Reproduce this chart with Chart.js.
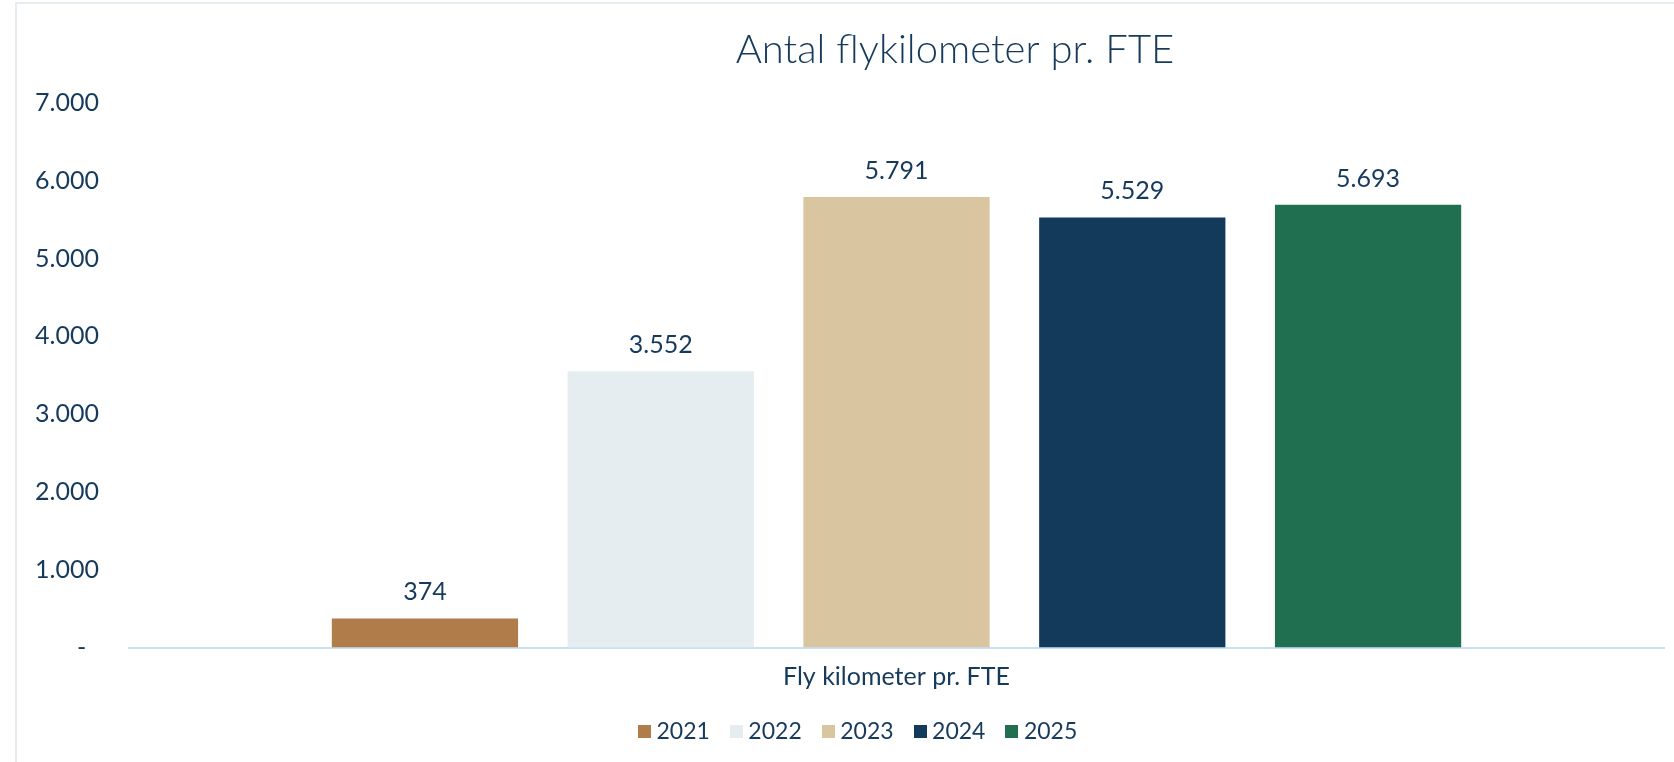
<!DOCTYPE html>
<html>
<head>
<meta charset="utf-8">
<script src="https://cdn.jsdelivr.net/npm/chart.js@4.4.1/dist/chart.umd.min.js"></script>
<style>
html, body { margin: 0; padding: 0; background: #ffffff; }
#wrap { position: relative; width: 1674px; height: 762px; overflow: hidden; }
#frame { position: absolute; left: 15px; top: 2px; right: -10px; bottom: -10px;
  border-left: 2px solid #e6ecf0; border-top: 2px solid #e6ecf0; }
#c { position: absolute; left: 0; top: 0; }
</style>
</head>
<body>
<div id="wrap">
  <div id="frame"></div>
  <canvas id="c" width="1674" height="762"></canvas>
</div>
<script>
// ---- data ----
const chartTitle = 'Antal flykilometer pr. FTE';
const categories = ['Fly kilometer pr. FTE'];
const years = ['2021', '2022', '2023', '2024', '2025'];
const values = [374, 3552, 5791, 5529, 5693];
const yMin = 0;
const yMax = 7000;
const yStep = 1000;

// ---- styles ----
const colors = ['#b07c4a', '#e5edf0', '#d9c6a0', '#143a5b', '#216f51'];
const textColor = '#163a5c';
const FONT = 'Lato';

function fmt(v) {
  if (v === 0) return '-  ';
  return String(v).replace(/\B(?=(\d{3})+(?!\d))/g, '.');
}

// legend swatches
const swatches = colors.map(c => {
  const cv = document.createElement('canvas');
  cv.width = 13; cv.height = 13;
  const g = cv.getContext('2d');
  g.fillStyle = c; g.fillRect(0, 0, 13, 13);
  return cv;
});

const datasets = years.map((y, i) => ({
  label: y,
  data: [values[i]],
  backgroundColor: colors[i],
  borderWidth: 0,
  categoryPercentage: 0.768,
  barPercentage: 0.79
}));

const valueLabels = {
  id: 'valueLabels',
  afterDatasetsDraw(chart) {
    const ctx = chart.ctx;
    ctx.save();
    ctx.font = '25px ' + FONT;
    ctx.fillStyle = textColor;
    ctx.textAlign = 'center';
    ctx.textBaseline = 'alphabetic';
    chart.data.datasets.forEach((ds, i) => {
      const meta = chart.getDatasetMeta(i);
      meta.data.forEach((bar, j) => {
        ctx.fillText(fmt(ds.data[j]), bar.x, bar.y - 18);
      });
    });
    ctx.restore();
  }
};

const placeBlocks = {
  id: 'placeBlocks',
  afterLayout(chart) {
    const t = chart.titleBlock;
    if (t) {
      const dx = 955 - (t.left + t.right) / 2;
      t.left += dx; t.right += dx;
    }
    const lg = chart.legend;
    if (lg && lg.lineWidths) {
      const pad = lg.options.labels.padding;
      const curX = (lg.left + pad + lg.right - lg.lineWidths[0]) / 2;
      const dx = 644 - curX;
      lg.left += dx; lg.right += dx;
      const dy = 732 - (lg.top + pad + 12);
      lg.top += dy; lg.bottom += dy;
    }
  }
};

Chart.defaults.font.family = FONT;
Chart.defaults.color = textColor;

new Chart(document.getElementById('c'), {
  type: 'bar',
  data: { labels: categories, datasets: datasets },
  options: {
    responsive: false,
    animation: false,
    devicePixelRatio: 1,
    layout: { padding: { left: 0, right: 10, top: 0, bottom: 0 } },
    scales: {
      x: {
        grid: { display: false, drawTicks: false },
        border: { display: true, color: '#c6e0f5', width: 2 },
        ticks: { color: textColor, font: { size: 25, family: FONT }, padding: 14.5 }
      },
      y: {
        min: yMin, max: yMax,
        grid: { display: false, drawTicks: false },
        border: { display: false },
        ticks: {
          stepSize: yStep,
          color: textColor,
          font: { size: 25, family: FONT },
          padding: 30,
          callback: v => fmt(v)
        },
        afterFit(scale) { scale.width = 129; }
      }
    },
    plugins: {
      title: {
        display: true,
        text: chartTitle,
        color: textColor,
        font: { family: FONT, size: 40, weight: '300' },
        padding: { top: 26, bottom: 29 }
      },
      legend: {
        position: 'bottom',
        maxHeight: 55.5,
        labels: {
          usePointStyle: true,
          pointStyleWidth: 1,
          boxHeight: 13,
          padding: 26,
          color: textColor,
          font: { family: FONT, size: 23 },
          generateLabels(chart) {
            const items = Chart.defaults.plugins.legend.labels.generateLabels(chart);
            items.forEach((it, i) => { it.pointStyle = swatches[i]; });
            return items;
          }
        }
      },
      tooltip: { enabled: false }
    }
  },
  plugins: [valueLabels, placeBlocks]
});
</script>
</body>
</html>
